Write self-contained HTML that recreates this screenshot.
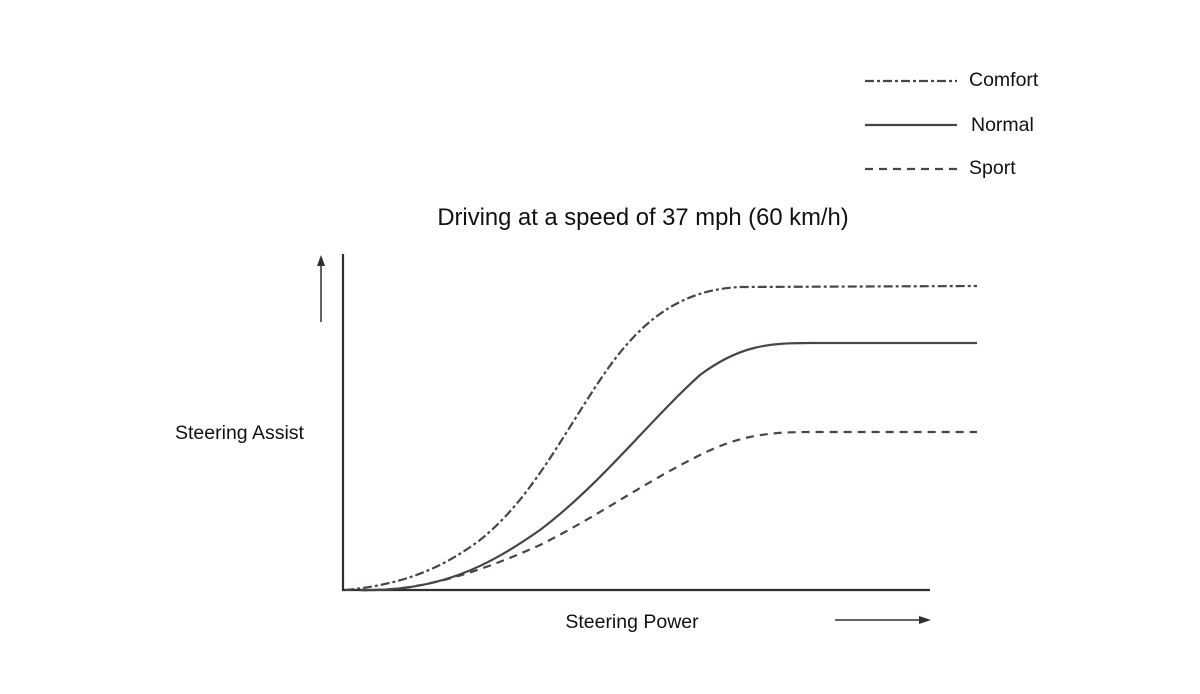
<!DOCTYPE html>
<html><head><style>body{margin:0;background:#fff}</style></head><body>
<svg width="1200" height="689" xmlns="http://www.w3.org/2000/svg" font-family="Liberation Sans, sans-serif" fill="#111">
<g stroke="#4a4443" stroke-width="2.2" fill="none">
<line x1="865" y1="81" x2="957" y2="81" stroke-dasharray="9,3,3,3"/>
<line x1="865" y1="125" x2="957" y2="125"/>
<line x1="865" y1="169" x2="957" y2="169" stroke-dasharray="8,6"/>
</g>
<text x="969" y="86" font-size="19.5">Comfort</text>
<text x="971" y="131" font-size="19.5">Normal</text>
<text x="969" y="174" font-size="19.5">Sport</text>
<text x="643" y="225" font-size="23.8" text-anchor="middle">Driving at a speed of 37 mph (60 km/h)</text>
<text x="175" y="439" font-size="19.5">Steering Assist</text>
<text x="632" y="628" font-size="19.5" text-anchor="middle">Steering Power</text>
<g stroke="#332e2d" stroke-width="2.2" fill="none">
<line x1="343" y1="254" x2="343" y2="591"/>
<line x1="342" y1="590" x2="930" y2="590"/>
<line x1="321" y1="322" x2="321" y2="264" stroke-width="1.5"/>
<line x1="835" y1="620" x2="920" y2="620" stroke-width="1.5"/>
</g>
<polygon points="321,255 317,266 325,266" fill="#332e2d"/>
<polygon points="931,620 919,616 919,624" fill="#332e2d"/>
<g stroke="#4a4443" stroke-width="2.2" fill="none">
<path d="M345,590 C400,585 440,570 480,540 C530,500 560,440 600,380 C640,320 680,290 740,287 L977,286" stroke-dasharray="9,3,3,3"/>
<path d="M360,590 C440,592 490,565 540,530 C600,485 650,420 700,375 C740,345 770,343 810,343 L977,343"/>
<path d="M360,590 C420,592 480,572 540,545 C600,515 640,485 700,455 C740,435 770,432 810,432 L977,432" stroke-dasharray="8,6"/>
</g>
</svg>
</body></html>
